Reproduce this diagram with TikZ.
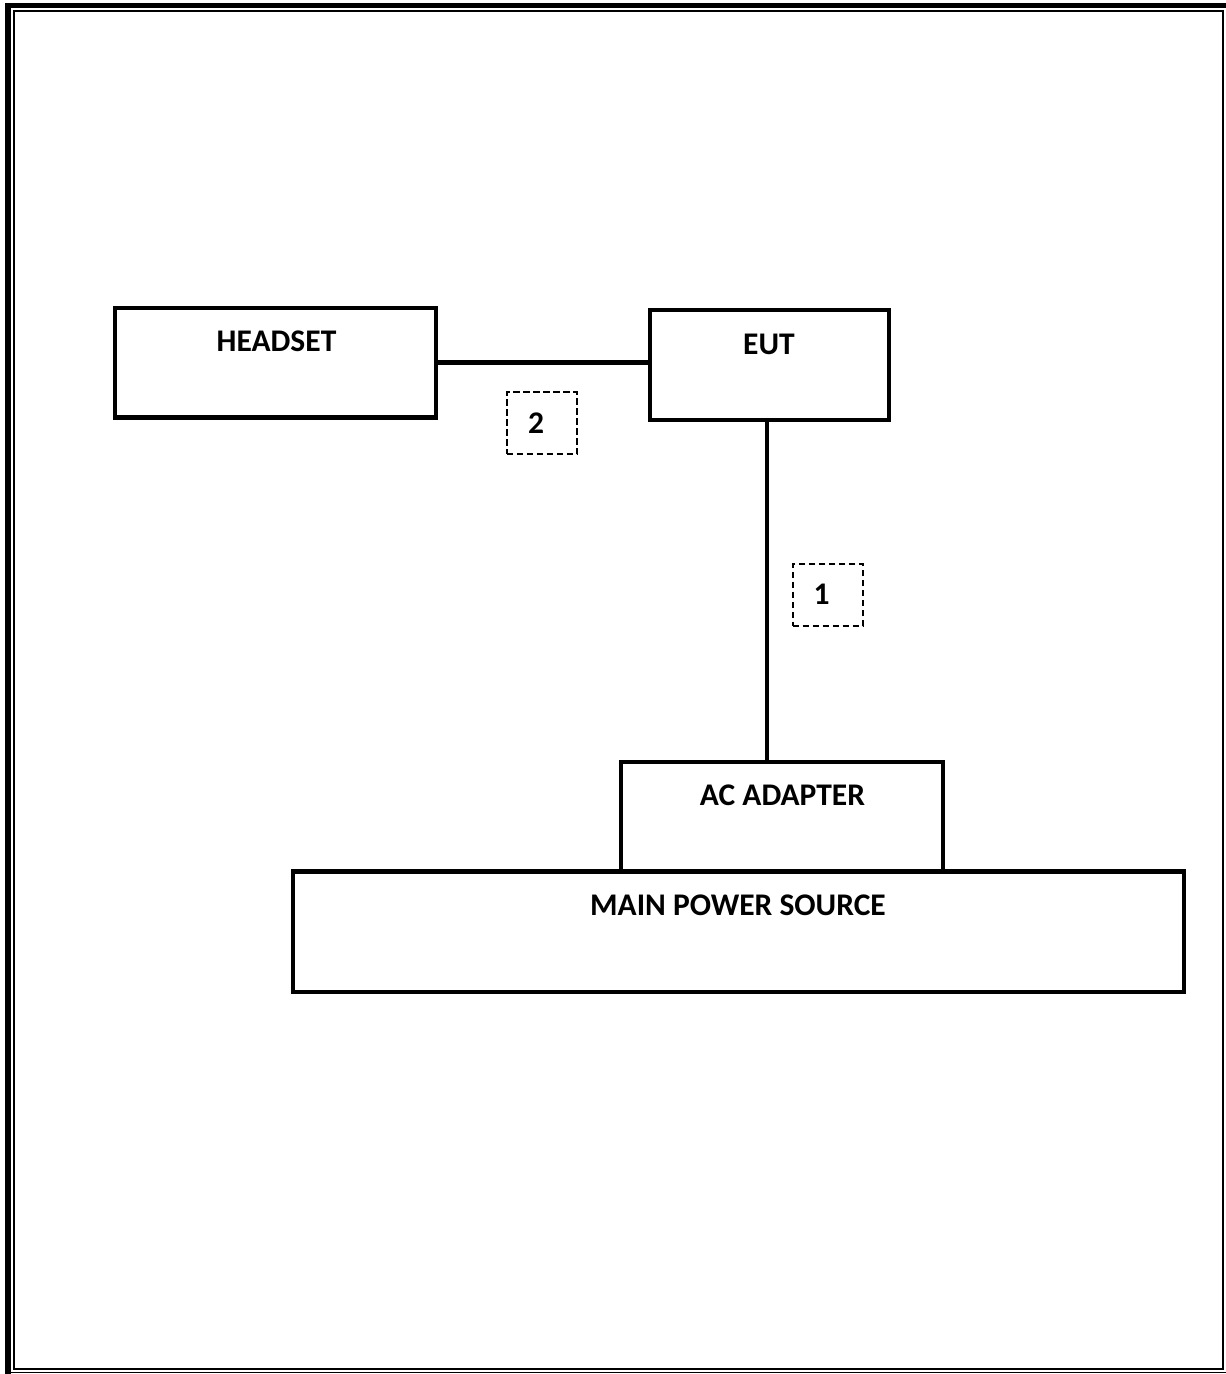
\documentclass[tikz,border=0pt]{standalone}
\usepackage{fontspec}
\setmainfont{Carlito}
\usetikzlibrary{calc}
\begin{document}
\begin{tikzpicture}[x=1pt,y=-1pt,
  box/.style={draw,line width=4.5pt,inner sep=0pt,outer sep=0pt},
  dbox/.style={draw,line width=1.8pt,dash pattern=on 6.5pt off 3.5pt,inner sep=0pt,outer sep=0pt},
  lbl/.style={font=\bfseries\fontsize{31.5}{31.5}\selectfont,anchor=base,inner sep=0pt},
  wire/.style={line width=4.5pt}]
\useasboundingbox (0,0) rectangle (1226,1374);
% page border
\draw[line width=6pt] (8,3) -- (8,1374);
\draw[line width=5pt] (5,5.5) -- (1226,5.5);
\draw[line width=1.5pt] (5,1372.3) -- (1226,1372.3);
\draw[line width=1.8pt] (13.7,11) rectangle (1223.3,1369.3);
% boxes
\node[box,minimum width=321pt,minimum height=109.5pt] (headset) at (275.5,362.75) {};
\node[box,minimum width=239pt,minimum height=110pt] (eut) at (769.5,365) {};
\node[box,minimum width=322pt,minimum height=109.5pt] (ac) at (782,816.75) {};
\node[box,minimum width=891pt,minimum height=120.5pt] (main) at (738.5,931.75) {};
\node[dbox,minimum width=70.6pt,minimum height=61.7pt] (d2) at (542,423.2) {};
\node[dbox,minimum width=70.6pt,minimum height=61.4pt] (d1) at (828,595) {};
% labels
\node[lbl] (tHeadset) at (276.5,351) {HEADSET};
\node[lbl] (tEut) at (769,354) {EUT};
\node[lbl] (tAc) at (782.5,805) {AC ADAPTER};
\node[lbl] (tMain) at (738,915) {MAIN POWER SOURCE};
\node[lbl] (t2) at (536,433) {2};
\node[lbl] (t1) at (821.5,604) {1};
% connectors
\coordinate (hc) at ($(headset.east)+(0,-0.25)$);
\draw[wire] (hc) -- (hc -| eut.west);
\coordinate (ec) at ($(eut.south)+(-2.5,0)$);
\draw[wire] (ec) -- (ec |- ac.north);
\end{tikzpicture}
\end{document}
